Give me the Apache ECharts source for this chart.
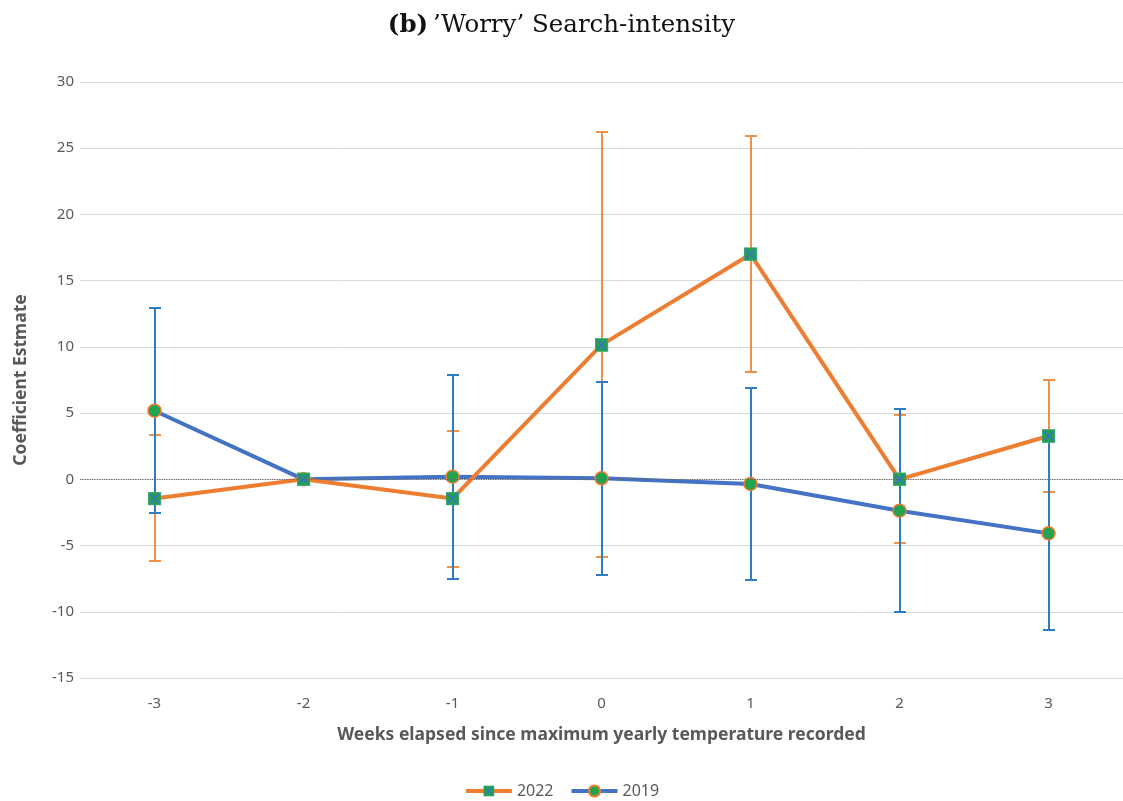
<!DOCTYPE html>
<html>
<head>
<meta charset="utf-8">
<script src="https://cdn.jsdelivr.net/npm/echarts@6/dist/echarts.min.js"></script>
<style>html,body{margin:0;padding:0;background:#fff}#c{width:1123px;height:801px}</style>
</head>
<body>
<div id="c"></div>
<script>
var categories = ['-3', '-2', '-1', '0', '1', '2', '3'];
var v2022 = [-1.45, 0, -1.45, 10.15, 17.0, 0, 3.27];
var lo2022 = [-6.2, null, -6.6, -5.85, 8.13, -4.8, -0.98];
var hi2022 = [3.35, null, 3.67, 26.2, 25.9, 4.86, 7.5];
var v2019 = [5.18, 0, 0.2, 0.08, -0.35, -2.37, -4.08];
var lo2019 = [-2.57, null, -7.55, -7.23, -7.6, -10.05, -11.38];
var hi2019 = [12.9, null, 7.88, 7.37, 6.92, 5.29, 3.2];
var yTicks = {min: -15, max: 30, interval: 5};

var sqSvg = '<svg xmlns="http://www.w3.org/2000/svg" width="26" height="26" viewBox="0 0 26 26">' +
  '<rect x="1" y="1" width="24" height="24" fill="#21A34F" stroke="#4FA97A" stroke-width="1.5"/>' +
  '<path d="M4.5 4.5 L21.5 21.5 M21.5 4.5 L4.5 21.5" fill="none" stroke="#3F6FC8" stroke-width="3"/></svg>';
var sqSymbol = 'image://data:image/svg+xml;charset=utf-8,' + encodeURIComponent(sqSvg);

function errData(lo, hi) {
  var d = [];
  for (var i = 0; i < categories.length; i++) {
    if (lo[i] != null) d.push([i, lo[i], hi[i]]);
  }
  return d;
}
function errRender(color) {
  return function (params, api) {
    var x = api.value(0);
    var p1 = api.coord([x, api.value(1)]);
    var p2 = api.coord([x, api.value(2)]);
    var cx = Math.round(p1[0]);
    var y1 = Math.round(p1[1]), y2 = Math.round(p2[1]);
    var w = 6;
    var st = {stroke: color, lineWidth: 2};
    return {type: 'group', children: [
      {type: 'line', shape: {x1: cx, y1: y1, x2: cx, y2: y2}, style: st},
      {type: 'line', shape: {x1: cx - w, y1: y1, x2: cx + w, y2: y1}, style: st},
      {type: 'line', shape: {x1: cx - w, y1: y2, x2: cx + w, y2: y2}, style: st}
    ]};
  };
}

var font = 'Noto Sans';
var chart = echarts.init(document.getElementById('c'));
chart.setOption({
  animation: false,
  backgroundColor: '#fff',
  title: {
    text: '{b|(b)} {n|’Worry’ Search-intensity}',
    left: 'center', top: 8,
    textStyle: {
      fontWeight: 'normal',
      rich: {
        b: {fontFamily: 'DejaVu Serif', fontWeight: 'bold', fontSize: 24.5, color: '#111'},
        n: {fontFamily: 'DejaVu Serif', fontWeight: 'normal', fontSize: 24.5, color: '#111'}
      }
    }
  },
  legend: {
    top: 778, left: 'center',
    itemWidth: 46, itemHeight: 14, itemGap: 16,
    lineStyle: {width: 4},
    textStyle: {fontFamily: font, fontSize: 16, color: '#595959'},
    data: ['2022', '2019']
  },
  grid: {left: 80, right: 0, top: 82, bottom: 123},
  xAxis: {
    type: 'category', data: categories,
    axisLine: {show: false}, axisTick: {show: false},
    axisLabel: {fontFamily: font, fontSize: 15, color: '#595959', margin: 18},
    name: 'Weeks elapsed since maximum yearly temperature recorded',
    nameLocation: 'middle', nameGap: 48,
    nameTextStyle: {fontFamily: font, fontSize: 17.5, fontWeight: 'bold', color: '#595959'}
  },
  yAxis: {
    type: 'value', min: yTicks.min, max: yTicks.max, interval: yTicks.interval,
    axisLine: {show: false}, axisTick: {show: false},
    axisLabel: {fontFamily: font, fontSize: 15, color: '#595959', margin: 6},
    splitLine: {lineStyle: {color: '#d9d9d9', width: 1}},
    name: 'Coefficient Estmate', nameLocation: 'middle', nameGap: 50,
    nameTextStyle: {fontFamily: font, fontSize: 17.5, fontWeight: 'bold', color: '#595959', padding: [0, 0, 0, 0]}
  },
  series: [
    {
      name: 'err2022', type: 'custom', z: 1, renderItem: errRender('#F0914A'),
      data: errData(lo2022, hi2022), silent: true
    },
    {
      name: 'err2019', type: 'custom', z: 2, renderItem: errRender('#2E7DC4'),
      data: errData(lo2019, hi2019), silent: true
    },
    {
      name: '2019', type: 'line', z: 3, data: v2019,
      symbol: 'circle', symbolSize: 13,
      lineStyle: {color: '#4472C4', width: 4},
      itemStyle: {color: '#21A34F', borderColor: '#ED7D31', borderWidth: 1.5},
      markLine: {
        silent: true, symbol: 'none', label: {show: false},
        lineStyle: {color: '#666', type: 'dotted', width: 1.2},
        data: [{yAxis: 0}]
      }
    },
    {
      name: '2022', type: 'line', z: 4, data: v2022,
      symbol: sqSymbol, symbolSize: 14,
      lineStyle: {color: '#ED7D31', width: 4},
      itemStyle: {color: '#ED7D31'}
    }
  ]
});
</script>
</body>
</html>
